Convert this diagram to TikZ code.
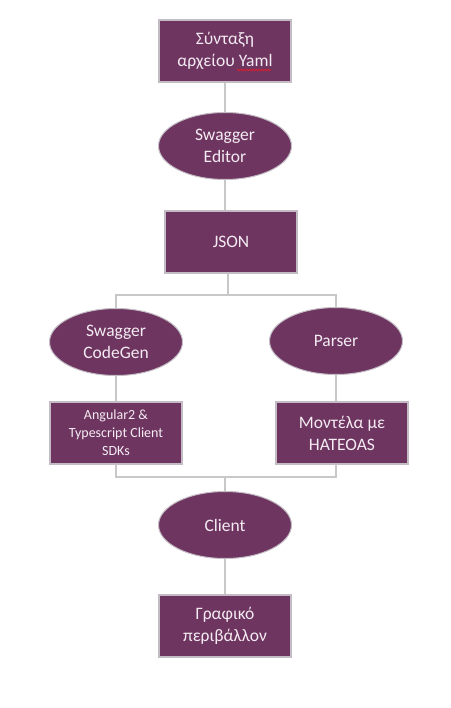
\documentclass[tikz,border=0pt]{standalone}
\usepackage{fontspec}
\setmainfont{Carlito}
\usetikzlibrary{shapes.geometric,decorations.pathmorphing}
\definecolor{plum}{HTML}{6E3561}
\definecolor{rim}{HTML}{C4BCC4}
\definecolor{wire}{HTML}{C8C8C8}
\definecolor{txt}{HTML}{F4ECF2}
\definecolor{spell}{HTML}{D02030}
\begin{document}
\begin{tikzpicture}[x=1pt,y=-1pt,
  box/.style={rectangle,fill=plum,draw=rim,line width=1.5pt,text=txt,
    minimum width=132pt,minimum height=62pt,align=center,inner sep=0pt,
    font=\fontsize{17.5}{22}\selectfont},
  smallbox/.style={box,font=\fontsize{14}{18}\selectfont},
  oval/.style={ellipse,fill=plum,draw=rim,line width=1pt,text=txt,
    minimum width=133pt,minimum height=67pt,align=center,inner sep=0pt,
    font=\fontsize{17.5}{22}\selectfont},
  wire/.style={draw=wire,line width=1.3pt}]
\useasboundingbox (0,0) rectangle (450,708);
\node[box] (syn) at (225,51) {Σύνταξη\\αρχείου Yaml};
\node[oval] (ed) at (225,146) {Swagger\\Editor};
\node[box] (json) at (231,242) {JSON};
\node[oval] (cg) at (116,342) {Swagger\\CodeGen};
\node[oval] (par) at (336,341) {Parser};
\node[smallbox] (ang) at (116,433) {Angular2 \&\\Typescript Client\\SDKs};
\node[box] (mod) at (342,433) {Μοντέλα με\\HATEOAS};
\node[oval] (cl) at (225,525) {Client};
\node[box] (gr) at (225,626) {Γραφικό\\περιβάλλον};
\coordinate (j1) at (228,295);
\coordinate (j2) at (225,477);
% spell-check underline under Yaml
\draw[spell,line width=1pt,decorate,decoration={snake,amplitude=0.7pt,segment length=3pt}]
  (237,70) -- (271,70);
\draw[wire] (syn.south) -- (ed.north);
\draw[wire] (ed.south) -- (ed.south |- json.north);
\draw[wire] (json.south -| j1) -- (j1);
\draw[wire] (cg.north) |- (j1) -| (par.north);
\draw[wire] (cg.south) -- (ang.north);
\draw[wire] (par.south) -- (par.south |- mod.north);
\draw[wire] (ang.south) |- (j2) -| (mod.south -| par.south);
\draw[wire] (j2) -- (cl.north);
\draw[wire] (cl.south) -- (gr.north);
\end{tikzpicture}
\end{document}
